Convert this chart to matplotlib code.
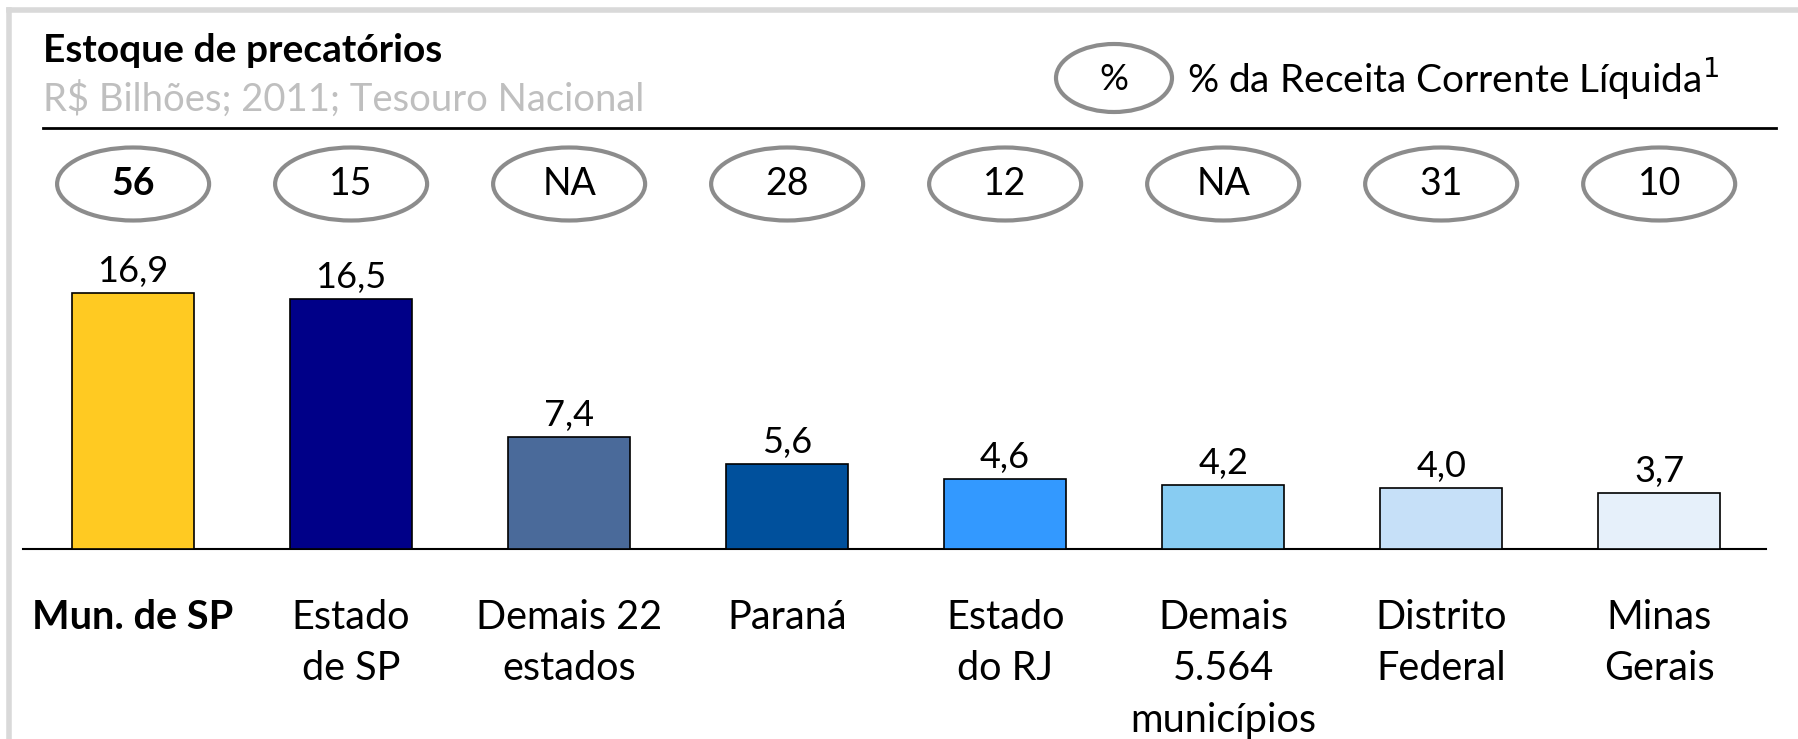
import matplotlib.pyplot as plt
from matplotlib.patches import Ellipse
from matplotlib.lines import Line2D

plt.rcParams['font.family'] = ['Lato', 'DejaVu Sans']

# data
categories = ["Mun. de SP", "Estado\nde SP", "Demais 22\nestados", "Paraná",
              "Estado\ndo RJ", "Demais\n5.564\nmunicípios", "Distrito\nFederal", "Minas\nGerais"]
estoque = [16.9, 16.5, 7.4, 5.6, 4.6, 4.2, 4.0, 3.7]
pct_rcl = ["56", "15", "NA", "28", "12", "NA", "31", "10"]
colors = ["#FFCA22", "#000088", "#4A6A9A", "#00509C", "#3399FF", "#88CCF2", "#C6E0F8", "#E6F0FA"]

W, H = 1798, 739
fig = plt.figure(figsize=(W / 100, H / 100), dpi=100)

def fx(px):
    return px / W

def fy(py):
    return 1 - py / H

# light gray frame
fig.add_artist(Line2D([fx(9), fx(9)], [fy(10), 0], color="#D9D9D9", lw=4))
fig.add_artist(Line2D([fx(9), 1], [fy(10), fy(10)], color="#D9D9D9", lw=4))

# header
fig.text(fx(43), fy(51), "Estoque de precatórios", fontsize=28, fontweight="bold",
         va="center", ha="left")
fig.text(fx(43), fy(99), "R$ Bilhões; 2011; Tesouro Nacional", fontsize=27.5,
         color="#BFBFBF", va="center", ha="left")
fig.add_artist(Line2D([fx(43), fx(1776)], [fy(128), fy(128)], color="black", lw=2))

# legend oval
fig.add_artist(Ellipse((fx(1114), fy(78)), fx(116), 68 / H, transform=fig.transFigure,
                       facecolor="white", edgecolor="#8C8C8C", lw=3))
fig.text(fx(1114), fy(80), "%", fontsize=26, ha="center", va="center")
fig.text(fx(1187), fy(78), "% da Receita Corrente Líquida$^{1}$", fontsize=28,
         ha="left", va="center")

# axes: baseline at y=549 px, 15.13 px per unit
base_px = 549
ppu = 15.13
ytop = 27.5
ax = fig.add_axes([fx(23), fy(base_px), fx(1766) - fx(23), (ytop * ppu) / H])
ax.set_xlim(-0.505, 7.49)
ax.set_ylim(0, ytop)

x = list(range(len(estoque)))
ax.bar(x, estoque, width=0.557, color=colors, edgecolor="black", linewidth=1.2, zorder=3)
for xi, v in zip(x, estoque):
    ax.text(xi, v + 0.35, f"{v:.1f}".replace(".", ","), ha="center", va="bottom", fontsize=26)

# ovals with % RCL
oval_y = (base_px - 184) / ppu
for i, (xi, p) in enumerate(zip(x, pct_rcl)):
    ax.add_patch(Ellipse((xi, oval_y), 152 / 218, 73 / ppu, facecolor="white",
                         edgecolor="#8C8C8C", lw=3, clip_on=False))
    ax.text(xi, oval_y, p, ha="center", va="center", fontsize=27,
            fontweight="bold" if i == 0 else "normal")

for s in ["top", "right", "left"]:
    ax.spines[s].set_visible(False)
ax.spines["bottom"].set_linewidth(1.5)
ax.set_yticks([])
ax.set_xticks(x)
ax.set_xticklabels(categories, fontsize=28.5, linespacing=1.48, va="top")
ax.tick_params(axis="x", length=0, pad=36)
ax.get_xticklabels()[0].set_fontweight("bold")

fig.savefig("out.png", dpi=100)
